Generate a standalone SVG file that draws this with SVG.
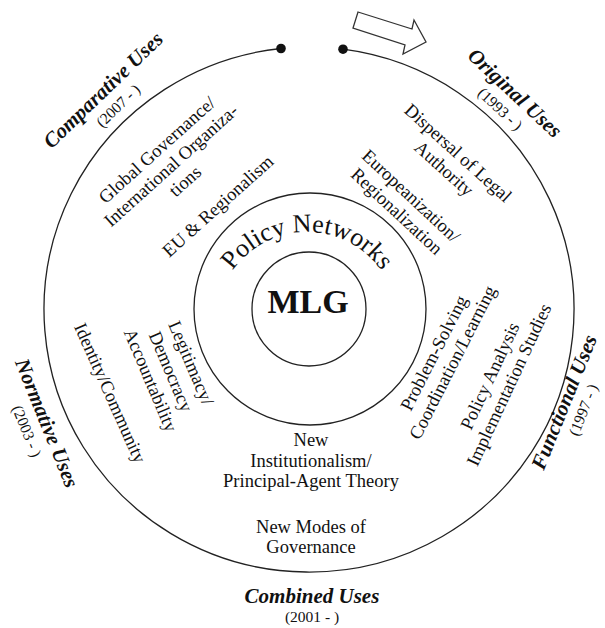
<svg xmlns="http://www.w3.org/2000/svg" width="605" height="628" viewBox="0 0 605 628">
<style>
text{font-family:"Liberation Serif","Times New Roman",serif;fill:#111;}
.b{font-size:18.5px;text-anchor:middle}
.h{font-size:21px;font-weight:bold;font-style:italic;text-anchor:middle}
.y{font-size:15.5px;text-anchor:middle}
.ring{fill:none;stroke:#222;stroke-width:1.3}
</style>
<defs>
<path id="pnArc" d="M216 323 A91 91 0 0 1 398 323"/>
</defs>
<rect width="605" height="628" fill="#fff"/>

<g id="outer-ring">
<path class="ring" d="M343 49.2 A265 262.5 0 1 1 281 48.5"/>
<circle cx="281" cy="48.5" r="4.8" fill="#111"/>
<circle cx="343" cy="49.2" r="4.8" fill="#111"/>
</g>

<g id="connectors">
<polygon points="358,12 412,29 414,20 426,42 403,54 405,45 353,28" fill="#fff" stroke="#333" stroke-width="1.3"/>
</g>

<g id="policy-networks">
<circle class="ring" cx="310" cy="309" r="116"/>
<text style="font-size:26px;text-anchor:middle"><textPath href="#pnArc" startOffset="50%">Policy Networks</textPath></text>
</g>

<g id="mlg">
<circle class="ring" cx="309" cy="309" r="57"/>
<text x="308" y="313" style="font-size:34px;font-weight:bold;text-anchor:middle">MLG</text>
</g>

<g id="original-uses">
<g transform="translate(515,93) rotate(43)">
<text class="h" y="7">Original Uses</text>
<text class="y" y="27">(1993 - )</text>
</g>
<g transform="translate(458,153) rotate(42)">
<text class="b" y="6">Dispersal of Legal</text>
<text class="b" y="27">Authority</text>
</g>
<g transform="translate(411,196) rotate(43)">
<text class="b" y="6">Europeanization/</text>
<text class="b" y="27">Regionalization</text>
</g>
</g>

<g id="functional-uses">
<g transform="translate(564,402) rotate(-68)">
<text class="h" y="7">Functional Uses</text>
<text class="y" y="26">(1997 - )</text>
</g>
<g transform="translate(434,353) rotate(-63)">
<text class="b" y="6">Problem-Solving</text>
<text class="b" y="27">Coordination/Learning</text>
</g>
<g transform="translate(490,376) rotate(-65)">
<text class="b" y="6">Policy Analysis</text>
<text class="b" y="27">Implementation Studies</text>
</g>
</g>

<g id="combined-uses">
<text class="b" x="311" y="446">New</text>
<text class="b" x="311" y="467">Institutionalism/</text>
<text class="b" x="311" y="487">Principal-Agent Theory</text>
<text class="b" x="311" y="533">New Modes of</text>
<text class="b" x="311" y="553">Governance</text>
<text class="h" x="312" y="603">Combined Uses</text>
<text class="y" x="312" y="622">(2001 - )</text>
</g>

<g id="normative-uses">
<g transform="translate(47,423) rotate(68)">
<text class="h" y="7">Normative Uses</text>
<text class="y" y="27">(2003 - )</text>
</g>
<g transform="translate(110,393) rotate(66)">
<text class="b" y="6">Identity/Community</text>
</g>
<g transform="translate(191,363) rotate(67)">
<text class="b" y="6">Legitimacy/</text>
<text class="b" y="28">Democracy</text>
<text class="b" y="50">Accountability</text>
</g>
</g>

<g id="comparative-uses">
<g transform="translate(103,90) rotate(-44)">
<text class="h" y="7">Comparative Uses</text>
<text class="y" y="27">(2007 - )</text>
</g>
<g transform="translate(157,150) rotate(-42)">
<text class="b" y="6">Global Governance/</text>
<text class="b" y="27">International Organiza-</text>
<text class="b" y="48">tions</text>
</g>
<g transform="translate(218,206) rotate(-42)">
<text class="b" y="6">EU &amp; Regionalism</text>
</g>
</g>
</svg>
